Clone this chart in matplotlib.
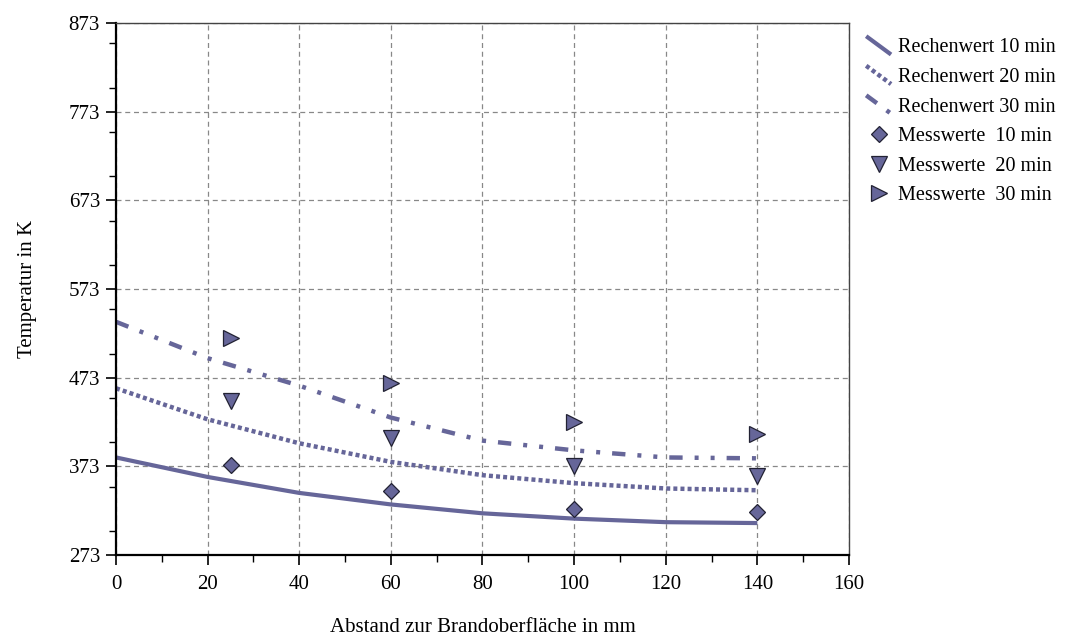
import numpy as np
import matplotlib
matplotlib.use("Agg")
import matplotlib.pyplot as plt
from matplotlib.ticker import MultipleLocator
from matplotlib.legend_handler import HandlerLine2D
from matplotlib.lines import Line2D

plt.rcParams['font.family'] = ['Liberation Serif', 'DejaVu Serif']

# calculated curves (Rechenwerte)
x_calc = [0, 20, 40, 60, 80, 100, 120, 140]
calc_10 = [383, 361, 343, 330, 320, 314, 310, 309]
calc_20 = [461, 426, 399, 378, 363, 354, 348, 346]
calc_30 = [536, 495, 464, 428, 402, 391, 383, 382]

# measured values (Messwerte)
x_meas = [25, 60, 100, 140]
meas_10 = [374, 345, 325, 321]
meas_20 = [447, 405, 373, 362]
meas_30 = [518, 467, 423, 409]

col = '#666699'
edge = '#222233'


class DiagHandler(HandlerLine2D):
    # legend key drawn as a short falling diagonal, like the original
    def create_artists(self, legend, orig_handle, xdescent, ydescent,
                       width, height, fontsize, trans):
        x0 = -xdescent
        line = Line2D([x0, x0 + width * 0.95], [height * 1.15, -height * 0.15])
        self.update_prop(line, orig_handle, legend)
        line.set_transform(trans)
        return [line]


fig = plt.figure(figsize=(10.66, 6.36), dpi=100)
ax = fig.add_axes([0.1088, 0.1274, 0.6876, 0.8364])

l10, = ax.plot(x_calc, calc_10, color=col, lw=3.0, solid_capstyle='butt',
               label='Rechenwert 10 min')
l20, = ax.plot(x_calc, calc_20, color=col, lw=3.2, linestyle=(0, (0.9, 0.7)),
               label='Rechenwert 20 min')
l30, = ax.plot(x_calc, calc_30, color=col, lw=3.2,
               linestyle=(0, (3.0, 2.7, 0.9, 2.7, 0.9, 2.7)),
               label='Rechenwert 30 min')

ax.plot(x_meas, meas_10, 'D', ms=8.5, mfc=col, mec=edge, mew=0.9, ls='none',
        label='Messwerte  10 min')
ax.plot(x_meas, meas_20, 'v', ms=11.5, mfc=col, mec=edge, mew=0.9, ls='none',
        label='Messwerte  20 min')
ax.plot(x_meas, meas_30, '>', ms=11.5, mfc=col, mec=edge, mew=0.9, ls='none',
        label='Messwerte  30 min')

ax.set_xlim(0, 160)
ax.set_ylim(273, 873)
ax.set_xticks(np.arange(0, 161, 20))
ax.set_yticks(np.arange(273, 874, 100))
ax.xaxis.set_minor_locator(MultipleLocator(10))
ax.yaxis.set_minor_locator(MultipleLocator(50))
ax.tick_params(which='both', direction='out', labelsize=15, color='black')
ax.tick_params(which='major', length=7.5, width=1.2)
ax.tick_params(which='minor', length=5, width=1)
ax.tick_params(axis='x', pad=7)
ax.tick_params(axis='y', pad=4)

ax.grid(True, which='major', color='#888888', linestyle=(0, (4, 3)), linewidth=0.9)
ax.set_axisbelow(True)

for side in ['left', 'bottom']:
    ax.spines[side].set_linewidth(1.6)
    ax.spines[side].set_color('black')
for side in ['top', 'right']:
    ax.spines[side].set_linewidth(1.0)
    ax.spines[side].set_color('#444444')

ax.set_xlabel('Abstand zur Brandoberfläche in mm', fontsize=15, labelpad=17)
ax.set_ylabel('Temperatur in K', fontsize=15, labelpad=23)

diag = DiagHandler()
ax.legend(loc='upper left', bbox_to_anchor=(1.007, 0.994), frameon=False,
          fontsize=14.5, handlelength=1.3, handletextpad=0.3, labelspacing=0.52,
          borderaxespad=0.2,
          handler_map={l10: diag, l20: diag, l30: diag})

fig.savefig('out.png', dpi=100)
